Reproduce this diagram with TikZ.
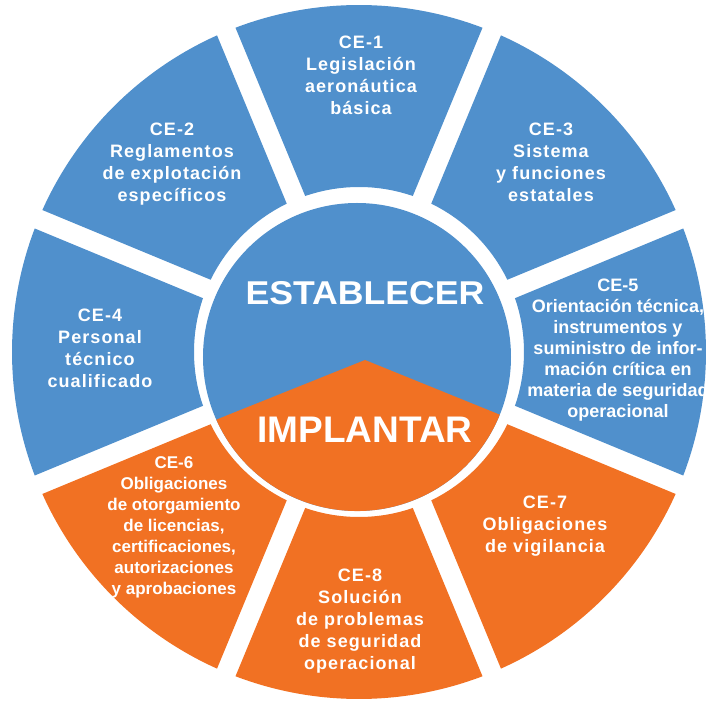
\documentclass[tikz,border=0pt]{standalone}
\usepackage{fontspec}
\setmainfont{Liberation Sans}
\newfontfamily\wide[LetterSpace=6]{Liberation Sans}
\definecolor{ceblue}{RGB}{80,144,204}
\definecolor{ceorange}{RGB}{241,113,35}

\begin{document}
\begin{tikzpicture}[x=1pt,y=1pt,
		ce/.style={text=white,font=\fontsize{18}{22}\selectfont\wide\bfseries,align=center},
		big/.style={text=white,font=\fontsize{#1}{#1}\selectfont\bfseries}]
		\def\R{347}
		\def\r{165}
		\def\rc{154}
		\useasboundingbox (-359,-349) rectangle (351,352);
		% eight outer pieces, white gaps of 20pt
		\foreach \c/\col in {0/ceblue,45/ceblue,90/ceblue,135/ceblue,180/ceblue,225/ceorange,270/ceorange,315/ceorange}{
			\pgfmathsetmacro{\ao}{\c-22.5+1.65}
			\pgfmathsetmacro{\bo}{\c+22.5-1.65}
			\pgfmathsetmacro{\ai}{\c-22.5+3.47}
			\pgfmathsetmacro{\bi}{\c+22.5-3.47}
			\fill[\col] (\ao:\R) arc [start angle=\ao, end angle=\bo, radius=\R]
				-- (\bi:\r) arc [start angle=\bi, end angle=\ai, radius=\r] -- cycle;
		}
		% centre
		\coordinate (C) at (-2,-5);
		\fill[ceblue] (C) circle (\rc);
		\fill[ceorange] (6,-8) -- ([shift={(204:\rc)}]C)
			arc [start angle=204, end angle=338, radius=\rc] -- cycle;
		\node[big=33] (est) at (6,59) {\scalebox{1.08}[1]{ESTABLECER}};
		\node[big=37] (imp) at (6,-78) {IMPLANTAR};
		\node[ce] (ce1) at (2,277) {CE-1\\Legislación\\aeronáutica\\básica};
		\node[ce] (ce2) at (-187,188) {CE-2\\Reglamentos\\de explotación\\específicos};
		\node[ce] (ce3) at (192,190) {CE-3\\Sistema\\y funciones\\estatales};
		\node[ce] (ce4) at (-259,4) {CE-4\\Personal\\técnico\\cualificado};
		\node[ce,font=\fontsize{18}{21}\selectfont\bfseries] (ce5) at (259,2) {CE-5\\Orientación técnica,\\instrumentos y\\suministro de infor-\\mación crítica en\\materia de seguridad\\operacional};
		\node[ce,font=\fontsize{17}{21}\selectfont\bfseries] (ce6) at (-185,-175) {CE-6\\Obligaciones\\de otorgamiento\\de licencias,\\certificaciones,\\autorizaciones\\y aprobaciones};
		\node[ce] (ce7) at (186,-174) {CE-7\\Obligaciones\\de vigilancia};
		\node[ce] (ce8) at (1,-269) {CE-8\\Solución\\de problemas\\de seguridad\\operacional};
	\end{tikzpicture}
\end{document}
